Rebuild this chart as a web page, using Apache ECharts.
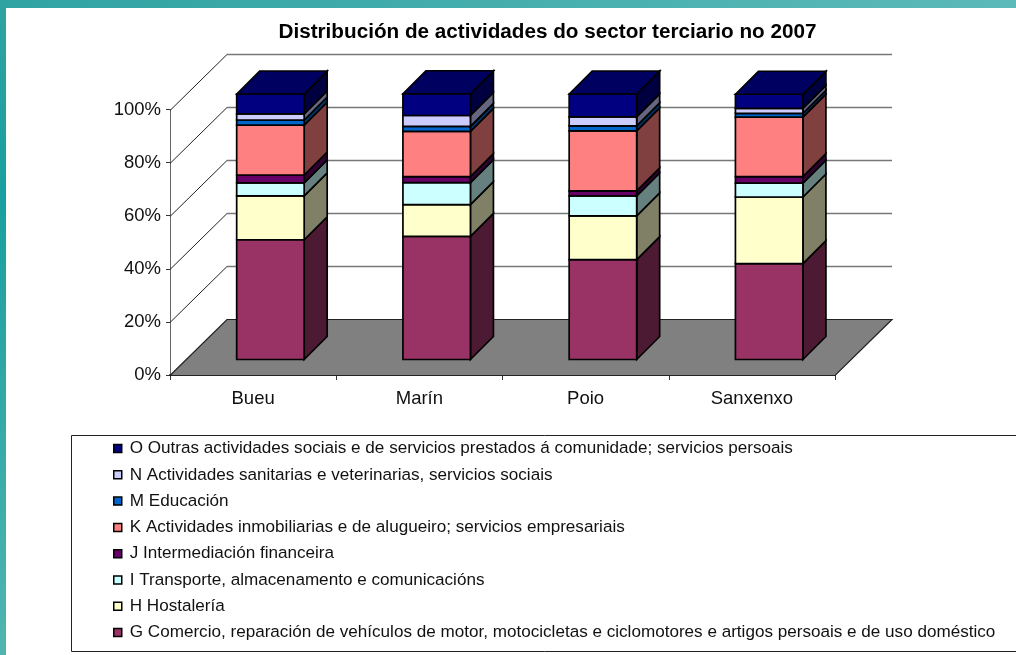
<!DOCTYPE html>
<html><head><meta charset="utf-8">
<style>html,body{margin:0;padding:0;background:#fff}#c{width:1016px;height:655px}</style>
<script src="https://cdn.jsdelivr.net/npm/echarts@6/dist/echarts.min.js"></script>
</head><body><div id="c"></div>
<script>
const categories = ['Bueu','Marín','Poio','Sanxenxo'];
const ticks = [0,20,40,60,80,100];
const G = [45.1,46.4,37.6,36.1];
const H = [16.5,11.9,16.5,25.1];
const I = [4.9,8.3,7.5,5.2];
const J = [3.0,2.3,1.9,2.5];
const K = [18.8,17.0,22.6,22.4];
const M = [1.9,1.9,1.9,1.4];
const N = [2.3,4.1,3.4,1.9];
const O = [7.5,8.2,8.6,5.3];
const stackNames = ['G Comercio, reparación de vehículos de motor, motocicletas e ciclomotores e artigos persoais e de uso doméstico','H Hostalería','I Transporte, almacenamento e comunicacións','J Intermediación financeira','K Actividades inmobiliarias e de alugueiro; servicios empresariais','M Educación','N Actividades sanitarias e veterinarias, servicios sociais','O Outras actividades sociais e de servicios prestados á comunidade; servicios persoais'];
const stackValues = [G,H,I,J,K,M,N,O];
const front = ['#993366','#FFFFCC','#CCFFFF','#660066','#FF8080','#0066CC','#CCCCFF','#000080'];
const side  = ['#4D1A33','#808066','#668080','#330033','#804040','#003366','#666680','#000040'];
const topFace = '#000060';

const WX=57, WY=56;           // wall depth
const BDX=17.3, BDY=15.5;     // bar front offset
const DEPTH=23;               // bar depth
const BW=67.5;                // bar width
const stroke='#000', LW=1.7;

function wallItem(params, api){
  const cs=params.coordSys, x0=cs.x, x1=cs.x+cs.width;
  const y=Math.round(api.coord([0,api.value(1)])[1])+0.5;
  const v=api.value(1);
  if(v===0){
    return {type:'polygon',shape:{points:[[x0,y],[x0+WX,y-WY],[x1+WX,y-WY],[x1,y]]},
      style:{fill:'#808080',stroke:'#222',lineWidth:1.2}};
  }
  return {type:'group',children:[
    {type:'line',shape:{x1:x0,y1:y,x2:x0+WX,y2:y-WY},style:{stroke:'#222',lineWidth:1}},
    {type:'line',shape:{x1:x0+WX,y1:y-WY,x2:x1+WX,y2:y-WY},style:{stroke:'#777',lineWidth:1.6}}
  ]};
}
function barItem(i,isTop){
  return function(params,api){
    const c=api.value(0);
    const a=api.coord([c,api.value(1)]), b=api.coord([c,api.value(2)]);
    const L=a[0]-BW/2+BDX, R=L+BW;
    const y0=a[1]-BDY, y1=b[1]-BDY, d=DEPTH;
    const kids=[
      {type:'polygon',shape:{points:[[R,y0],[R+d,y0-d],[R+d,y1-d],[R,y1]]},style:{fill:side[i],stroke,lineWidth:LW}},
      {type:'rect',shape:{x:L,y:y1,width:BW,height:y0-y1},style:{fill:front[i],stroke,lineWidth:LW}}
    ];
    if(isTop) kids.push({type:'polygon',shape:{points:[[L,y1],[L+d,y1-d],[R+d,y1-d],[R,y1]]},style:{fill:topFace,stroke,lineWidth:LW}});
    return {type:'group',children:kids};
  };
}
const series=[{type:'custom',name:'walls',coordinateSystem:'cartesian2d',silent:true,z:1,clip:false,
  renderItem:wallItem,encode:{x:0,y:1},data:ticks.map(t=>[0,t])}];
stackValues.forEach((vals,i)=>{
  const data=vals.map((v,c)=>{let s=0;for(let k=0;k<i;k++)s+=stackValues[k][c];return [c,s,s+v];});
  series.push({type:'custom',name:stackNames[i],coordinateSystem:'cartesian2d',z:2+i,clip:false,
    itemStyle:{color:front[i]},renderItem:barItem(i,i===stackValues.length-1),encode:{x:0,y:[1,2]},data});
});
const chart=echarts.init(document.getElementById('c'),null,{renderer:'canvas'});
chart.setOption({
  animation:false,
  backgroundColor:'#fff',
  title:{text:'Distribución de actividades do sector terciario no 2007',left:542.5,top:17,textAlign:'center',
    textStyle:{fontFamily:'Liberation Sans',fontWeight:'bold',fontSize:20.7,color:'#000'}},
  grid:{left:170,top:109.5,width:665,height:265.5},
  xAxis:{type:'category',data:categories,
    axisLine:{lineStyle:{color:'#333',width:2}},axisTick:{show:true,length:5,lineStyle:{color:'#333'},alignWithLabel:false},
    axisLabel:{fontFamily:'Liberation Sans',fontSize:18.5,color:'#111',margin:14}},
  yAxis:{type:'value',min:0,max:100,interval:20,
    axisLine:{show:true,lineStyle:{color:'#666',width:1}},axisTick:{show:true,length:4,lineStyle:{color:'#333'}},
    splitLine:{show:false},
    axisLabel:{fontFamily:'Liberation Sans',fontSize:18.5,color:'#111',margin:9,formatter:'{value}%',padding:[0,0,2,0]}},
  legend:{orient:'vertical',left:108,top:435,itemWidth:8,itemHeight:8,itemGap:9.3,icon:'rect',selectedMode:false,
    data:stackNames.slice().reverse(),
    itemStyle:{borderColor:'#000',borderWidth:1.5},
    textStyle:{fontFamily:'Liberation Sans',fontSize:17.1,color:'#111',padding:[0,0,0,3]}},
  graphic:{elements:[
    {type:'rect',silent:true,z:0,shape:{x:71.5,y:435.5,width:960,height:216},style:{fill:'#fff',stroke:'#222',lineWidth:1}},
    {type:'rect',silent:true,z:0,shape:{x:0,y:0,width:1016,height:8},
      style:{fill:{type:'linear',x:0,y:0,x2:1,y2:0,colorStops:[{offset:0,color:'#2FA3A2'},{offset:1,color:'#5CBAB9'}]}}},
    {type:'rect',silent:true,z:0,shape:{x:0,y:0,width:6,height:655},
      style:{fill:{type:'linear',x:0,y:0,x2:0,y2:1,colorStops:[{offset:0,color:'#2FA3A2'},{offset:0.3,color:'#199F9F'},{offset:1,color:'#50B5B0'}]}}}
  ]},
  series
});
</script></body></html>
